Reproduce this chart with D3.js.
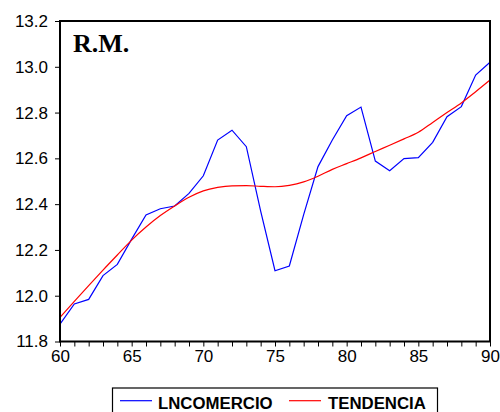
<!DOCTYPE html>
<html><head><meta charset="utf-8">
<script src="https://cdn.jsdelivr.net/npm/d3@7"></script>
<style>body{margin:0;background:#fff}svg{display:block}</style>
</head><body>
<svg id="c" width="500" height="412"></svg>
<script>
const years = d3.range(60, 91);
const lncomercio = [11.876,11.964,11.984,12.088,12.137,12.247,12.353,12.38,12.392,12.447,12.524,12.68,12.723,12.651,12.37,12.109,12.13,12.354,12.564,12.68,12.786,12.824,12.588,12.546,12.599,12.603,12.67,12.782,12.826,12.964,13.02];
const tendencia = [11.905,11.975,12.044,12.112,12.178,12.243,12.300,12.350,12.392,12.430,12.458,12.473,12.480,12.481,12.478,12.476,12.482,12.497,12.522,12.552,12.577,12.602,12.630,12.657,12.685,12.714,12.757,12.800,12.842,12.891,12.942];
const yTicks = [11.8,12.0,12.2,12.4,12.6,12.8,13.0,13.2];
const xTicks = [60,65,70,75,80,85,90];
const seriesNames = ["LNCOMERCIO","TENDENCIA"];
const colors = ["#0000ff","#ff0000"];

const svg = d3.select("#c");
const L=60,R=490,T=21,B=341.5;
const x = d3.scaleLinear().domain([60,90]).range([L,R]);
const y = d3.scaleLinear().domain([11.8,13.2]).range([B,T]);

const fontAx = "Liberation Sans, Arial, sans-serif";
// y axis
const ya = svg.append("g").attr("transform",`translate(${L},0)`)
  .call(d3.axisLeft(y).tickValues(yTicks).tickFormat(d3.format(".1f")).tickSize(5).tickPadding(7));
ya.select(".domain").remove();
ya.selectAll("line").attr("stroke","#000");
ya.selectAll("text").attr("font-family",fontAx).attr("font-size",17).attr("fill","#000");
// x axis
const xa = svg.append("g").attr("transform",`translate(0,${B})`)
  .call(d3.axisBottom(x).tickValues(years).tickFormat(d=> xTicks.includes(d)? d : "").tickSize(5).tickPadding(3));
xa.select(".domain").remove();
xa.selectAll("line").attr("stroke","#000");
xa.selectAll("text").attr("font-family",fontAx).attr("font-size",17).attr("fill","#000");

const line = d3.line().x((d,i)=>x(years[i])).y(d=>y(d));
svg.append("path").datum(lncomercio).attr("d",line).attr("fill","none").attr("stroke",colors[0]).attr("stroke-width",1.2);
svg.append("path").datum(tendencia).attr("d",d3.line().curve(d3.curveMonotoneX).x((d,i)=>x(years[i])).y(d=>y(d))).attr("fill","none").attr("stroke",colors[1]).attr("stroke-width",1.2);

svg.append("rect").attr("x",L).attr("y",T).attr("width",R-L).attr("height",B-T)
  .attr("fill","none").attr("stroke","#000").attr("stroke-width",2);

svg.append("text").attr("x",73).attr("y",51.5).text("R.M.")
  .attr("font-family","Liberation Serif, Times New Roman, serif").attr("font-weight","bold").attr("font-size",26);

// legend
const lg = svg.append("g");
lg.append("rect").attr("x",112.5).attr("y",388).attr("width",325).attr("height",40)
  .attr("fill","none").attr("stroke","#000").attr("stroke-width",1.2);
const lx = [[120,152,158],[289,321,328]];
seriesNames.forEach((n,i)=>{
  lg.append("line").attr("x1",lx[i][0]).attr("x2",lx[i][1]).attr("y1",400.7).attr("y2",400.7).attr("stroke",colors[i]).attr("stroke-width",1.2);
  lg.append("text").attr("x",lx[i][2]).attr("y",408.5).text(n)
    .attr("font-family",fontAx).attr("font-weight","bold").attr("font-size",16.8);
});
</script>
</body></html>
